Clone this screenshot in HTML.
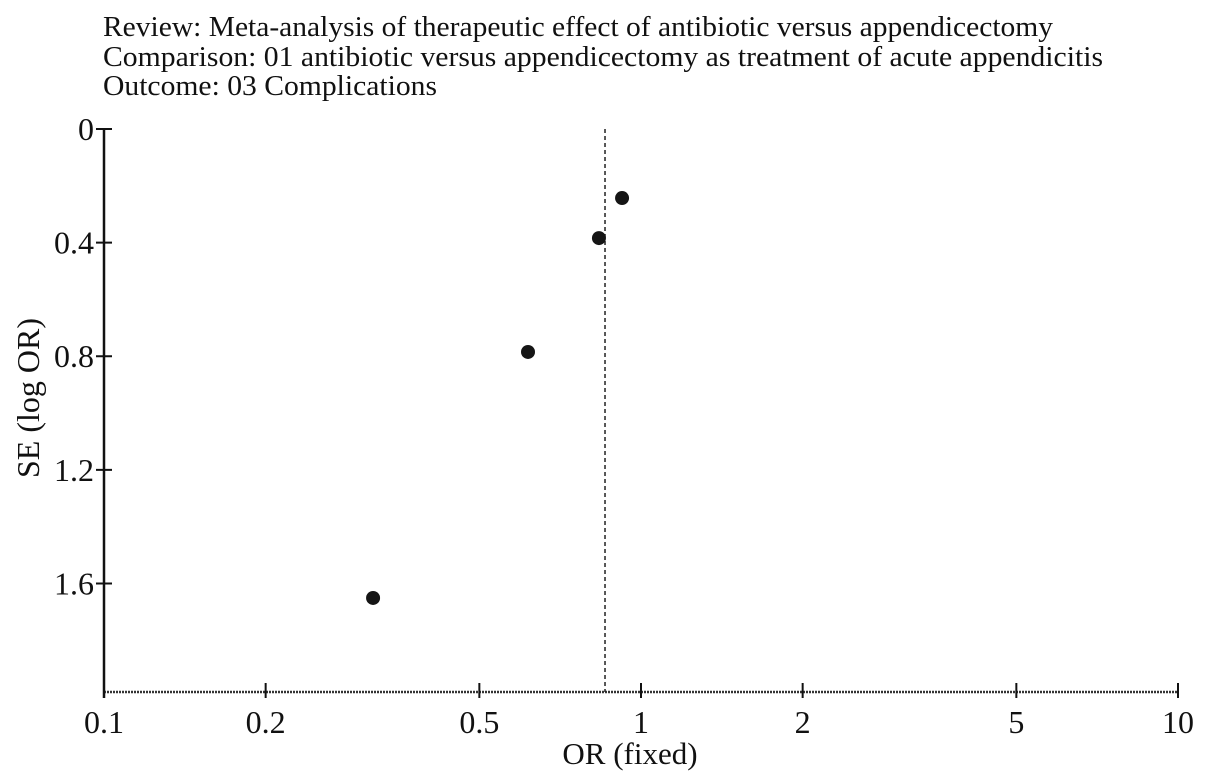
<!DOCTYPE html>
<html><head><meta charset="utf-8"><style>
html,body{margin:0;padding:0;background:#fff;}
svg{display:block;font-family:"Liberation Serif",serif;}
</style></head><body>
<svg id="chart" width="1205" height="783" viewBox="0 0 1205 783" xmlns="http://www.w3.org/2000/svg">
<g font-size="29" fill="#111">
<text x="103" y="36" textLength="950" lengthAdjust="spacingAndGlyphs">Review: Meta-analysis of therapeutic effect of antibiotic versus appendicectomy</text>
<text x="103" y="66" textLength="1000" lengthAdjust="spacingAndGlyphs">Comparison: 01 antibiotic versus appendicectomy as treatment of acute appendicitis</text>
<text x="103" y="95" textLength="334" lengthAdjust="spacingAndGlyphs">Outcome: 03 Complications</text>
</g>
<g id="axes"></g>
<g id="marks"></g>
</svg>
<script>
const xTicks = [0.1, 0.2, 0.5, 1, 2, 5, 10];
const xTickLabels = ["0.1", "0.2", "0.5", "1", "2", "5", "10"];
const yTicks = [0, 0.4, 0.8, 1.2, 1.6];
const yTickLabels = ["0", "0.4", "0.8", "1.2", "1.6"];
const studyOR = [0.922, 0.835, 0.616, 0.317];
const studySE = [0.243, 0.384, 0.785, 1.651];
const pooledOR = 0.857;

const NS = "http://www.w3.org/2000/svg";
const plotL = 104, plotR = 1178, plotT = 129, plotB = 692;
const yMax = 1.982;
function xs(v){ return plotL + (Math.log10(v) + 1) / 2 * (plotR - plotL); }
function ys(v){ return plotT + v / yMax * (plotB - plotT); }
function mk(tag, attrs, parent){ const e = document.createElementNS(NS, tag); for (const k in attrs) e.setAttribute(k, attrs[k]); parent.appendChild(e); return e; }
const axesG = document.getElementById('axes');
const marksG = document.getElementById('marks');

const ya = mk('line', {x1:plotL, y1:plotT, x2:plotL, y2:plotB+6, stroke:'#111', 'stroke-width':2.5}, axesG);


const xa = mk('line', {x1:plotL, y1:plotB, x2:plotR, y2:plotB, stroke:'#333', 'stroke-width':2.5, 'stroke-dasharray':'2 1'}, axesG);



yTicks.forEach((v, i) => {
  const y = ys(v);
  const t = mk('line', {x1:plotL-8, y1:y, x2:plotL+8, y2:y, stroke:'#111', 'stroke-width':2}, axesG);
  
  
  const l = mk('text', {x:plotL-10, y:y+11, 'text-anchor':'end', 'font-size':32, fill:'#111'}, axesG);
  l.textContent = yTickLabels[i];
  
  
});
xTicks.forEach((v, i) => {
  const x = xs(v);
  const t = mk('line', {x1:x, y1:plotB-9, x2:x, y2:plotB+6, stroke:'#111', 'stroke-width':2}, axesG);
  
  
  const l = mk('text', {x:x, y:733, 'text-anchor':'middle', 'font-size':32, fill:'#111'}, axesG);
  l.textContent = xTickLabels[i];
  
  
});
const xt = mk('text', {x:630, y:764, 'text-anchor':'middle', 'font-size':31, fill:'#111'}, axesG);
xt.textContent = 'OR (fixed)';


const yt = mk('text', {x:0, y:0, 'text-anchor':'middle', 'font-size':32, fill:'#111', transform:'translate(39,398) rotate(-90)'}, axesG);
yt.textContent = 'SE (log OR)';



const pl = mk('line', {x1:xs(pooledOR), y1:plotT, x2:xs(pooledOR), y2:plotB, stroke:'#222', 'stroke-width':1.5, 'stroke-dasharray':'4 3'}, marksG);



studyOR.forEach((v, i) => {
  const c = mk('circle', {cx:xs(v), cy:ys(studySE[i]), r:7, fill:'#151515'}, marksG);
  
  
});
</script>
</body></html>
